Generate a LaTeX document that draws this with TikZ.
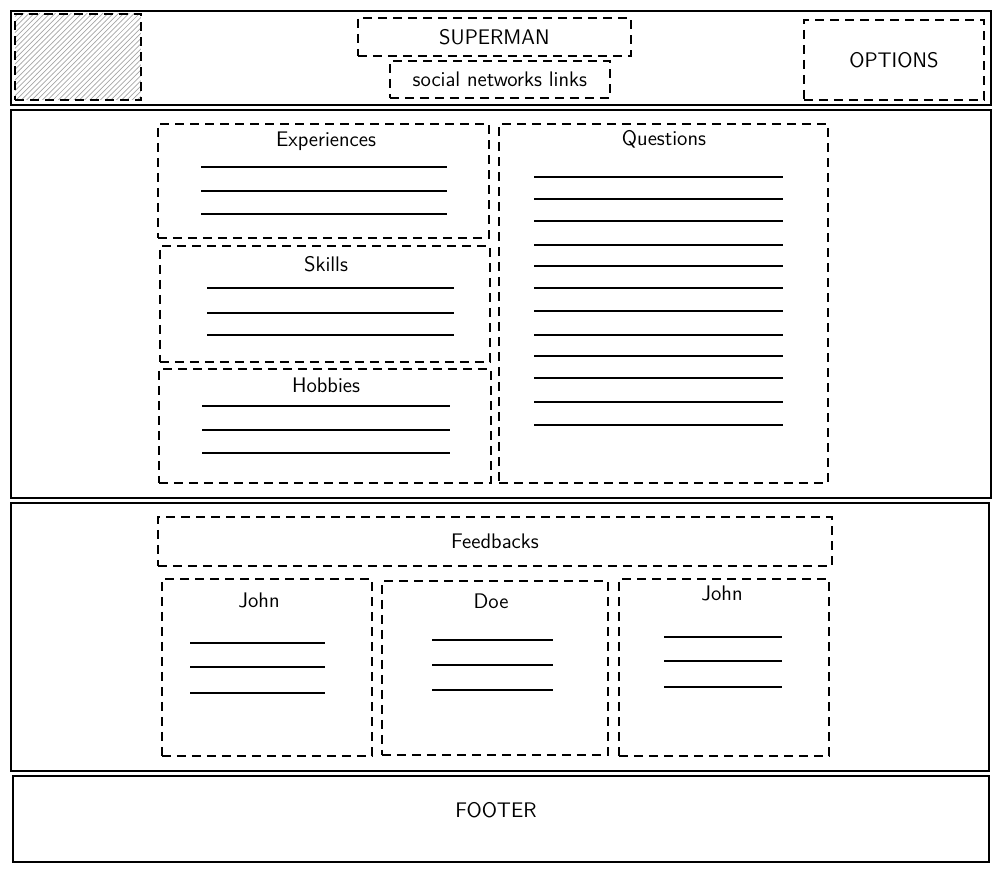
\documentclass[tikz,border=0pt]{standalone}
\usetikzlibrary{patterns, positioning}

\begin{document}
\begin{tikzpicture}[x=0.2mm, y=-0.2mm,
    frame/.style={draw, line width=1.1pt, anchor=north west, inner sep=0pt},
    dbox/.style={draw, line width=1pt, dash pattern=on 1.8mm off 1.2mm, anchor=north west, inner sep=0pt},
    txt/.style={font=\sffamily\large},
    wline/.style={line width=1pt}]
      \useasboundingbox (0,0) rectangle (1000,870);

      % header
      \node[frame, minimum width=196mm, minimum height=18.8mm] (head) at (10,10) {};
      \node[dbox, pattern=north east lines, pattern color=gray!70, minimum width=25.2mm, minimum height=17.2mm] (logo) at (14,13) {};
      \node[dbox, minimum width=54.6mm, minimum height=7.6mm] (name) at (357,17) {};
      \node[txt] (namet) at (name.center) {SUPERMAN};
      \node[dbox, minimum width=44mm, minimum height=7.4mm] (social) at (389,60) {};
      \node[txt] (socialt) at (social.center) {social networks links};
      \node[dbox, minimum width=36mm, minimum height=16mm] (opt) at (803,19) {};
      \node[txt] (optt) at (opt.center) {OPTIONS};

      % main part
      \node[frame, minimum width=196mm, minimum height=77.6mm] (main) at (10,109) {};
      \node[dbox, minimum width=66.2mm, minimum height=22.8mm] (exp) at (157,123) {};
      \node[txt] (expt) at (326,141) {Experiences};
      \foreach \y in {167,191,214}
        \draw[wline] (201,\y) -- (447,\y);

      \node[dbox, minimum width=66mm, minimum height=23.2mm] (skills) at (159,245) {};
      \node[txt] (skillst) at (326,264) {Skills};
      \foreach \y in {288,313,335}
        \draw[wline] (207,\y) -- (454,\y);

      \node[dbox, minimum width=66.4mm, minimum height=22.8mm] (hob) at (158,368) {};
      \node[txt] (hobt) at (326,385) {Hobbies};
      \foreach \y in {406,430,453}
        \draw[wline] (202,\y) -- (450,\y);

      \node[dbox, minimum width=65.8mm, minimum height=71.8mm] (quest) at (498,123) {};
      \node[txt] (questt) at (664,139) {Questions};
      \foreach \y in {177,199,221,245,266,288,311,335,356,378,402,425}
        \draw[wline] (534,\y) -- (783,\y);

      % feedbacks
      \node[frame, minimum width=195.6mm, minimum height=53.6mm] (feedsec) at (10,502) {};
      \node[dbox, minimum width=134.8mm, minimum height=9.8mm] (feed) at (157,516) {};
      \node[txt] (feedt) at (feed.center) {Feedbacks};

      \node[dbox, minimum width=42mm, minimum height=35.4mm] (john1) at (161,578) {};
      \node[txt] (john1t) at (259,600) {John};
      \foreach \y in {643,667,693}
        \draw[wline] (190,\y) -- (325,\y);

      \node[dbox, minimum width=45.2mm, minimum height=34.8mm] (doe) at (381,580) {};
      \node[txt] (doet) at (491,601) {Doe};
      \foreach \y in {640,665,690}
        \draw[wline] (432,\y) -- (553,\y);

      \node[dbox, minimum width=42mm, minimum height=35.4mm] (john2) at (618,578) {};
      \node[txt] (john2t) at (722,593) {John};
      \foreach \y in {637,661,687}
        \draw[wline] (664,\y) -- (782,\y);

      % footer
      \node[frame, minimum width=195.2mm, minimum height=17.2mm] (foot) at (12,775) {};
      \node[txt] (foott) at (496,810) {FOOTER};
    \end{tikzpicture}
\end{document}
